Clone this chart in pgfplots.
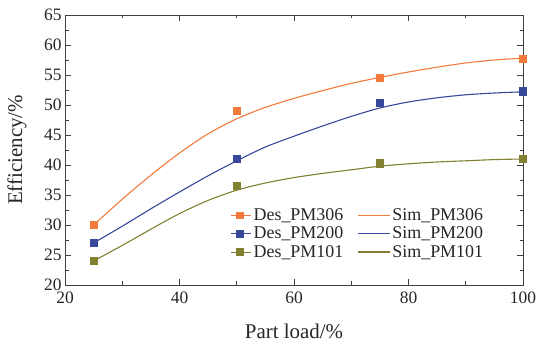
\documentclass[border=0pt]{standalone}
\usepackage{pgfplots}
\pgfplotsset{compat=1.18}
\usepackage{fontspec}
\setmainfont{Liberation Serif}
\definecolor{corange}{RGB}{242,122,58}
\definecolor{cblue}{RGB}{56,72,155}
\definecolor{colive}{RGB}{128,128,48}
\pgfplotsset{
  simline/.style={smooth, line width=1.1pt, legend image code/.code={\draw[##1] (0bp,0bp) -- (32bp,0bp);}},
  desmark/.style={only marks, mark=square*, mark size=3.6bp, legend image code/.code={\path (0bp,0bp) -- (20bp,0bp); \draw[##1, mark size=3.4bp] plot coordinates {(8bp,0bp)};}},
}
\begin{document}
\begin{tikzpicture}
\begin{axis}[
  name=ax,
  scale only axis, width=458bp, height=270bp,
  xmin=20, xmax=100, ymin=20, ymax=65,
  xtick={20,40,...,100}, ytick={20,25,...,65},
  minor x tick num=1, minor y tick num=1,
  tick align=inside, tick pos=both,
  major tick length=6bp, minor tick length=3.5bp,
  axis line style={line width=0.9pt, black!75},
  every tick/.style={black!75, line width=0.7pt},
  /pgf/number format/assume math mode=true,
  tick label style={font=\fontsize{17.5}{19}\selectfont, text=black!85},
  xticklabel style={yshift=-3bp},
  xlabel={Part load/\%}, ylabel={Efficiency/\%},
  every axis x label/.style={at={(axis description cs:0.5,0)}, anchor=center, yshift=-46bp, font=\fontsize{21}{23}\selectfont, text=black!85},
  every axis y label/.style={at={(axis description cs:0,0.5)}, rotate=90, anchor=center, yshift=48bp, font=\fontsize{21}{23}\selectfont, text=black!85},
  legend columns=2,
  legend style={draw=none, fill=none, at={(0.356,0.299)}, anchor=north west,
    font=\fontsize{18}{19}\selectfont, text=black!85,
    /tikz/every even column/.append style={column sep=12bp},
    row sep=1bp},
  legend cell align=left,
]
\addplot[desmark, corange, mark options={draw=corange, fill=corange}] coordinates {(25,30) (50,49) (75,54.6) (100,57.7)};
\addlegendentry{Des\_PM306}
\addplot[simline, corange] coordinates {(25,30) (30,34.3) (35,38.3) (40,42) (45,45.2) (50,47.7) (55,49.6) (60,51.1) (65,52.4) (70,53.6) (75,54.6) (80,55.5) (85,56.3) (90,57) (95,57.5) (100,57.8)};
\addlegendentry{Sim\_PM306}
\addplot[desmark, cblue, mark options={draw=cblue, fill=cblue}] coordinates {(25,27) (50,41) (75,50.4) (100,52.3)};
\addlegendentry{Des\_PM200}
\addplot[simline, cblue] coordinates {(25,27) (30,29.8) (35,32.7) (40,35.5) (45,38.2) (50,40.7) (55,43) (60,44.8) (65,46.5) (70,48.1) (75,49.5) (80,50.5) (85,51.2) (90,51.7) (95,52) (100,52.2)};
\addlegendentry{Sim\_PM200}
\addplot[desmark, colive, mark options={draw=colive, fill=colive}] coordinates {(25,24) (50,36.5) (75,40.3) (100,41)};
\addlegendentry{Des\_PM101}
\addplot[simline, colive] coordinates {(25,24) (30,26.6) (35,29.3) (40,31.9) (45,34.1) (50,35.8) (55,37) (60,37.9) (65,38.6) (70,39.2) (75,39.8) (80,40.2) (85,40.5) (90,40.7) (95,40.9) (100,41)};
\addlegendentry{Sim\_PM101}
\end{axis}
\pgfresetboundingbox
\path ([shift={(-65bp,-60bp)}]ax.south west) rectangle ([shift={(15bp,15bp)}]ax.north east);
\end{tikzpicture}
\end{document}
